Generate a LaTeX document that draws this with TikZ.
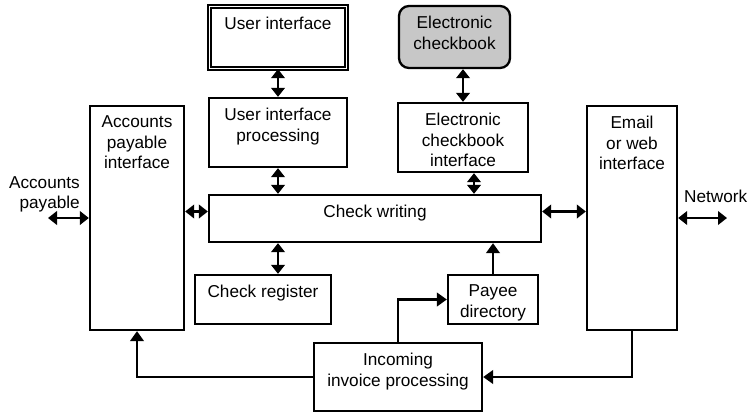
\documentclass[tikz,border=0pt]{standalone}
\usepackage{fontspec}
\setmainfont{Liberation Sans}
\usetikzlibrary{arrows.meta}

\begin{document}
\begin{tikzpicture}[x=1pt, y=-1pt,
        font=\fontsize{17.2}{20.5}\selectfont,
        box/.style={draw, line width=2.3pt, inner sep=0pt},
        intext/.style={label={[anchor=north, align=center, inner sep=0pt, yshift=-11pt]90:#1}},
        dbl/.style={line width=2.5pt, {Triangle[length=9pt,width=13.5pt]}-{Triangle[length=9pt,width=13.5pt]}},
        one/.style={line width=2.5pt, -{Triangle[length=10pt,width=13.5pt]}}]
                \useasboundingbox (0, 0) rectangle (749, 416);
                % boxes
                \node[box, double, line width=1.3pt, double distance=1.6pt, minimum width=137pt, minimum height=62pt, intext={User interface}] (ui) at (278, 37.5) {};
                \node[box, minimum width=138pt, minimum height=69pt, intext={User interface\\processing}] (uip) at (278, 132.5) {};
                \node[box, minimum width=94pt, minimum height=224pt, intext={Accounts\\payable\\interface}] (ap) at (137, 218) {};
                \node[box, minimum width=332pt, minimum height=47pt, intext={Check writing}] (cw) at (375, 218.5) {};
                \node[box, rounded corners=10pt, fill=black!22, minimum width=111pt, minimum height=62pt, intext={Electronic\\checkbook}] (ec) at (454.5, 37) {};
                \node[box, minimum width=130pt, minimum height=69pt, intext={Electronic\\checkbook\\interface}] (eci) at (463, 137.5) {};
                \node[box, minimum width=90pt, minimum height=224pt, intext={Email\\or web\\interface}] (em) at (632, 218) {};
                \node[box, minimum width=136pt, minimum height=49pt, intext={Check register}] (cr) at (263, 299.5) {};
                \node[box, minimum width=90pt, minimum height=49pt, intext={Payee\\directory}] (pd) at (493, 299.5) {};
                \node[box, minimum width=168pt, minimum height=68pt, intext={Incoming\\invoice processing}] (iip) at (398, 377) {};
                % outside labels
                \node[anchor=north east, align=right, inner sep=0pt] (aptxt) at (80, 176) {Accounts\\payable};
                \node[anchor=north west, inner sep=0pt] (nettxt) at (684, 190) {Network};
                \coordinate (apx) at (48, 218);
                \coordinate (netx) at (727, 218);
                % connectors
                \draw[dbl] (ui.south) -- (uip.north);
                \draw[dbl] (uip.south) -- (uip.south |- cw.north);
                \draw[dbl] (eci.north |- ec.south) -- (eci.north);
                \draw[dbl] ([xshift=11pt]eci.south) -- ([xshift=11pt]eci.south |- cw.north);
                \draw[dbl] (uip.south |- cw.south) -- (uip.south |- cr.north);
                \draw[one] (pd.north) -- (pd.north |- cw.south);
                \draw[dbl] ([yshift=7pt]cw.west -| ap.east) -- ([yshift=7pt]cw.west);
                \draw[dbl] ([yshift=7pt]cw.east) -- ([yshift=7pt]cw.east -| em.west);
                \draw[dbl] (apx) -- (apx -| ap.west);
                \draw[dbl] (em.east) -- (netx);
                \draw[one] (iip.west) -| (ap.south);
                \draw[one] (iip.north) |- (pd.west);
                \draw[one] (em.south) |- (iip.east);
        \end{tikzpicture}
\end{document}
